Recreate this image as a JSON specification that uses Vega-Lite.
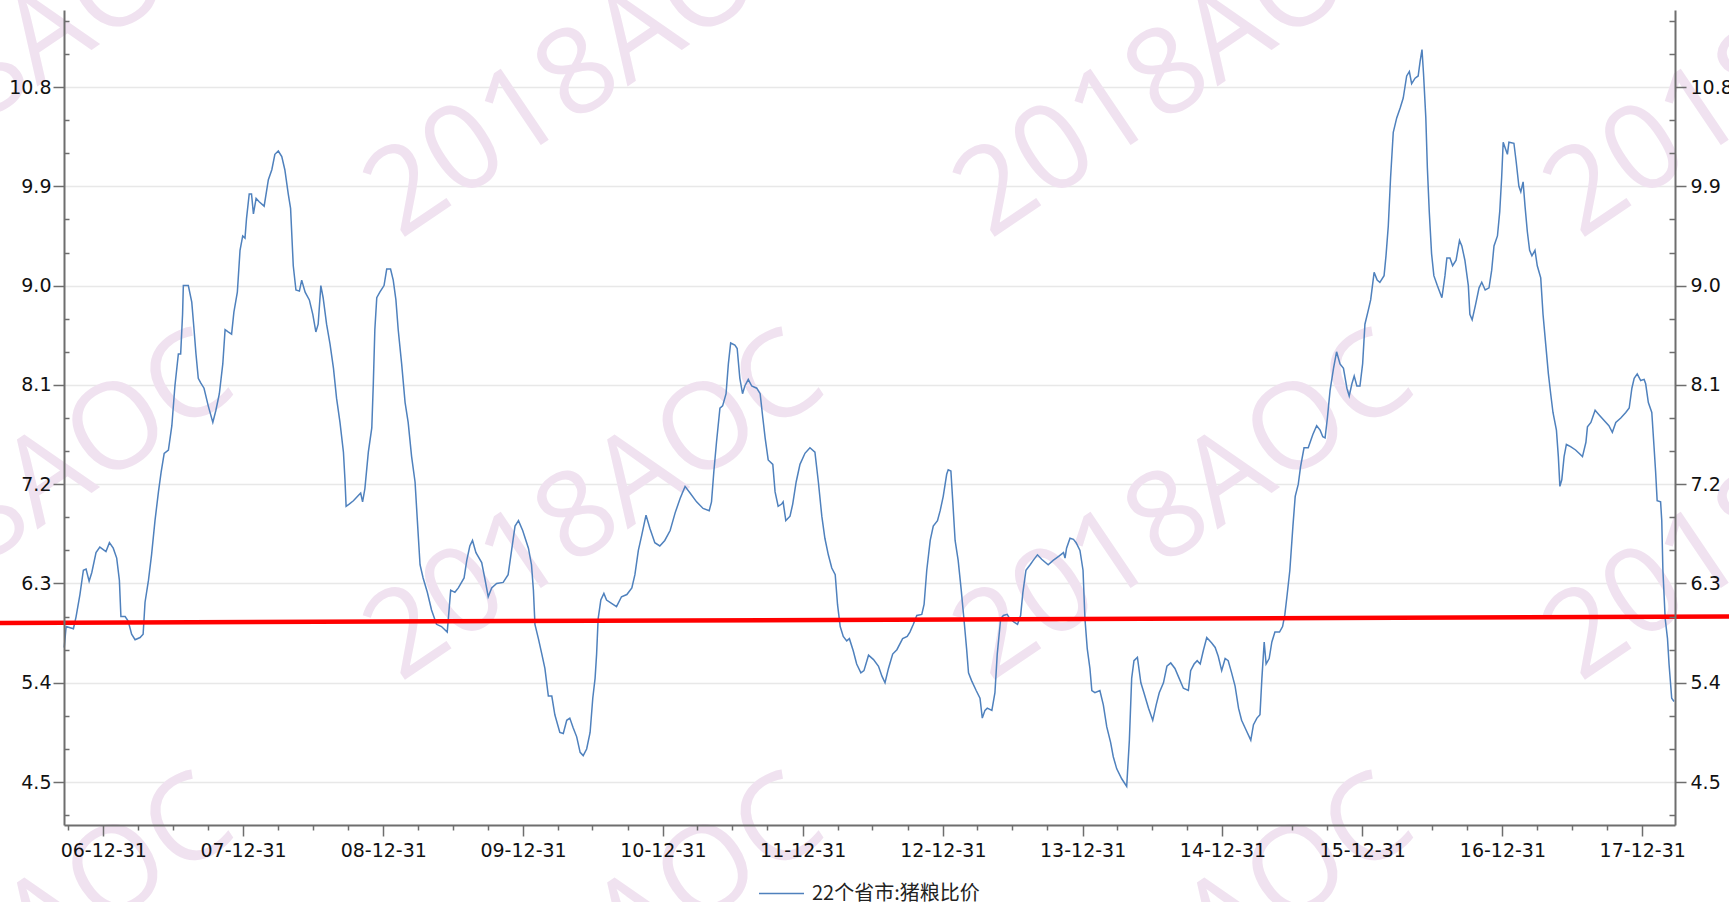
{
"$schema":"https://vega.github.io/schema/vega-lite/v6.json",
"width":1611,"height":815,
"autosize":{"type":"none"},
"padding":{"left":64,"top":10,"right":54,"bottom":77},
"background":"#ffffff",
"config":{"view":{"stroke":null},"axis":{"labelFont":"DejaVu Sans","labelFontSize":19,"labelColor":"#111111","domainColor":"#6e6e6e","tickColor":"#6e6e6e","domainWidth":2,"tickWidth":1.5,"title":null,"labelFlush":false,"labelOverlap":false}},
"layer":[
{
"data":{"values":[{"date":"2010-001","value":6.0}],"format":{"parse":{"date":"utc:'%Y-%j'"}}},
"mark":{"type":"point","opacity":0},
"encoding":{
"x":{"field":"date","type":"temporal","scale":{"type":"utc","domain":[{"year":2006,"month":9,"date":19,"hours":10,"utc":true},{"year":2018,"month":3,"date":26,"hours":14,"utc":true}]},"axis":null},
"y":{"field":"value","type":"quantitative","scale":{"domain":[4.111,11.498],"nice":false,"zero":false},
"axis":{"orient":"left","values":[4.5,5.4,6.3,7.2,8.1,9.0,9.9,10.8],"labels":false,"domain":false,"ticks":false,"grid":true,"gridColor":"#e8e8e8","gridWidth":1.5,"zindex":0}}
}
},
{
"data":{"values":[
{"date":"2006-108","value":11.0},{"date":"2010-188","value":11.0},{"date":"2014-267","value":11.0},{"date":"2018-347","value":11.0},
{"date":"2006-108","value":6.985},{"date":"2010-188","value":6.985},{"date":"2014-267","value":6.985},{"date":"2018-347","value":6.985},
{"date":"2006-108","value":2.97},{"date":"2010-188","value":2.97},{"date":"2014-267","value":2.97},{"date":"2018-347","value":2.97}
],"format":{"parse":{"date":"utc:'%Y-%j'"}}},
"mark":{"type":"text","text":"2018AOC","font":"Open Sans","fontSize":120,"angle":326,"align":"center","baseline":"middle","color":"#f0e2f0"},
"encoding":{
"x":{"field":"date","type":"temporal","scale":{"type":"utc","domain":[{"year":2006,"month":9,"date":19,"hours":10,"utc":true},{"year":2018,"month":3,"date":26,"hours":14,"utc":true}]},"axis":null},
"y":{"field":"value","type":"quantitative","scale":{"domain":[4.111,11.498],"nice":false,"zero":false},"axis":null}
}
},
{
"data":{"values":[
{"date":"2006-263","value":5.72},{"date":"2006-268","value":5.91},{"date":"2006-287","value":5.89},{"date":"2006-294","value":6.0},{"date":"2006-304","value":6.2},{"date":"2006-313","value":6.42},{"date":"2006-320","value":6.43},{"date":"2006-328","value":6.32},{"date":"2006-335","value":6.4},{"date":"2006-346","value":6.58},{"date":"2006-356","value":6.63},
{"date":"2007-007","value":6.59},{"date":"2007-016","value":6.67},{"date":"2007-026","value":6.62},{"date":"2007-035","value":6.53},{"date":"2007-042","value":6.33},{"date":"2007-046","value":6.0},{"date":"2007-057","value":6.0},{"date":"2007-065","value":5.96},{"date":"2007-074","value":5.84},{"date":"2007-083","value":5.79},{"date":"2007-096","value":5.81},{"date":"2007-104","value":5.84},{"date":"2007-109","value":6.13},{"date":"2007-118","value":6.33},{"date":"2007-126","value":6.56},{"date":"2007-135","value":6.87},{"date":"2007-144","value":7.13},{"date":"2007-151","value":7.31},{"date":"2007-159","value":7.48},{"date":"2007-170","value":7.51},{"date":"2007-179","value":7.73},{"date":"2007-187","value":8.09},{"date":"2007-196","value":8.38},{"date":"2007-202","value":8.38},{"date":"2007-207","value":8.74},{"date":"2007-209","value":9.0},{"date":"2007-222","value":9.0},{"date":"2007-231","value":8.85},{"date":"2007-237","value":8.6},{"date":"2007-242","value":8.38},{"date":"2007-248","value":8.16},{"date":"2007-254","value":8.12},{"date":"2007-263","value":8.07},{"date":"2007-274","value":7.91},{"date":"2007-286","value":7.76},{"date":"2007-294","value":7.87},{"date":"2007-303","value":8.02},{"date":"2007-312","value":8.29},{"date":"2007-318","value":8.6},{"date":"2007-326","value":8.58},{"date":"2007-335","value":8.56},{"date":"2007-341","value":8.76},{"date":"2007-350","value":8.94},{"date":"2007-357","value":9.32},{"date":"2007-364","value":9.45},
{"date":"2008-005","value":9.43},{"date":"2008-009","value":9.61},{"date":"2008-016","value":9.83},{"date":"2008-022","value":9.83},{"date":"2008-027","value":9.65},{"date":"2008-034","value":9.79},{"date":"2008-042","value":9.76},{"date":"2008-055","value":9.72},{"date":"2008-066","value":9.96},{"date":"2008-075","value":10.05},{"date":"2008-083","value":10.19},{"date":"2008-092","value":10.22},{"date":"2008-101","value":10.17},{"date":"2008-109","value":10.05},{"date":"2008-118","value":9.83},{"date":"2008-124","value":9.7},{"date":"2008-131","value":9.18},{"date":"2008-138","value":8.96},{"date":"2008-147","value":8.95},{"date":"2008-153","value":9.05},{"date":"2008-162","value":8.94},{"date":"2008-173","value":8.87},{"date":"2008-182","value":8.74},{"date":"2008-190","value":8.58},{"date":"2008-196","value":8.65},{"date":"2008-203","value":9.0},{"date":"2008-209","value":8.89},{"date":"2008-218","value":8.65},{"date":"2008-227","value":8.47},{"date":"2008-236","value":8.25},{"date":"2008-244","value":7.98},{"date":"2008-253","value":7.76},{"date":"2008-262","value":7.49},{"date":"2008-266","value":7.24},{"date":"2008-269","value":7.0},{"date":"2008-277","value":7.02},{"date":"2008-288","value":7.05},{"date":"2008-307","value":7.12},{"date":"2008-312","value":7.04},{"date":"2008-318","value":7.16},{"date":"2008-327","value":7.49},{"date":"2008-336","value":7.71},{"date":"2008-340","value":8.11},{"date":"2008-344","value":8.6},{"date":"2008-349","value":8.89},{"date":"2008-357","value":8.94},
{"date":"2009-002","value":9.0},{"date":"2009-009","value":9.15},{"date":"2009-019","value":9.15},{"date":"2009-026","value":9.05},{"date":"2009-033","value":8.87},{"date":"2009-039","value":8.6},{"date":"2009-048","value":8.29},{"date":"2009-057","value":7.94},{"date":"2009-065","value":7.76},{"date":"2009-074","value":7.45},{"date":"2009-083","value":7.22},{"date":"2009-089","value":6.87},{"date":"2009-096","value":6.47},{"date":"2009-104","value":6.35},{"date":"2009-115","value":6.22},{"date":"2009-126","value":6.06},{"date":"2009-139","value":5.93},{"date":"2009-152","value":5.91},{"date":"2009-167","value":5.86},{"date":"2009-176","value":6.24},{"date":"2009-187","value":6.22},{"date":"2009-196","value":6.26},{"date":"2009-211","value":6.35},{"date":"2009-218","value":6.51},{"date":"2009-226","value":6.64},{"date":"2009-233","value":6.69},{"date":"2009-242","value":6.58},{"date":"2009-257","value":6.49},{"date":"2009-266","value":6.33},{"date":"2009-274","value":6.18},{"date":"2009-283","value":6.26},{"date":"2009-296","value":6.3},{"date":"2009-313","value":6.31},{"date":"2009-326","value":6.38},{"date":"2009-335","value":6.6},{"date":"2009-344","value":6.82},{"date":"2009-353","value":6.87},{"date":"2009-364","value":6.78},
{"date":"2010-014","value":6.62},{"date":"2010-022","value":6.47},{"date":"2010-027","value":6.24},{"date":"2010-031","value":5.93},{"date":"2010-040","value":5.8},{"date":"2010-049","value":5.66},{"date":"2010-057","value":5.53},{"date":"2010-066","value":5.28},{"date":"2010-075","value":5.28},{"date":"2010-083","value":5.11},{"date":"2010-096","value":4.95},{"date":"2010-105","value":4.94},{"date":"2010-114","value":5.06},{"date":"2010-122","value":5.08},{"date":"2010-131","value":4.99},{"date":"2010-140","value":4.91},{"date":"2010-149","value":4.77},{"date":"2010-157","value":4.74},{"date":"2010-166","value":4.8},{"date":"2010-175","value":4.95},{"date":"2010-182","value":5.26},{"date":"2010-188","value":5.44},{"date":"2010-192","value":5.66},{"date":"2010-196","value":5.98},{"date":"2010-203","value":6.15},{"date":"2010-211","value":6.21},{"date":"2010-218","value":6.15},{"date":"2010-231","value":6.12},{"date":"2010-244","value":6.09},{"date":"2010-257","value":6.18},{"date":"2010-271","value":6.2},{"date":"2010-284","value":6.26},{"date":"2010-292","value":6.38},{"date":"2010-301","value":6.6},{"date":"2010-310","value":6.74},{"date":"2010-321","value":6.92},{"date":"2010-331","value":6.8},{"date":"2010-344","value":6.67},{"date":"2010-357","value":6.64},
{"date":"2011-005","value":6.69},{"date":"2011-019","value":6.78},{"date":"2011-032","value":6.94},{"date":"2011-045","value":7.07},{"date":"2011-058","value":7.18},{"date":"2011-071","value":7.12},{"date":"2011-088","value":7.04},{"date":"2011-105","value":6.98},{"date":"2011-121","value":6.96},{"date":"2011-127","value":7.04},{"date":"2011-133","value":7.31},{"date":"2011-140","value":7.58},{"date":"2011-149","value":7.89},{"date":"2011-156","value":7.91},{"date":"2011-165","value":8.02},{"date":"2011-171","value":8.29},{"date":"2011-177","value":8.48},{"date":"2011-188","value":8.46},{"date":"2011-194","value":8.43},{"date":"2011-201","value":8.16},{"date":"2011-208","value":8.02},{"date":"2011-214","value":8.09},{"date":"2011-223","value":8.15},{"date":"2011-232","value":8.09},{"date":"2011-245","value":8.07},{"date":"2011-254","value":8.02},{"date":"2011-261","value":7.8},{"date":"2011-267","value":7.62},{"date":"2011-275","value":7.42},{"date":"2011-287","value":7.38},{"date":"2011-293","value":7.13},{"date":"2011-301","value":7.0},{"date":"2011-310","value":7.02},{"date":"2011-314","value":7.04},{"date":"2011-321","value":6.87},{"date":"2011-332","value":6.91},{"date":"2011-339","value":7.02},{"date":"2011-348","value":7.22},{"date":"2011-358","value":7.38},
{"date":"2012-006","value":7.48},{"date":"2012-019","value":7.53},{"date":"2012-032","value":7.49},{"date":"2012-041","value":7.22},{"date":"2012-050","value":6.91},{"date":"2012-058","value":6.71},{"date":"2012-067","value":6.56},{"date":"2012-076","value":6.44},{"date":"2012-085","value":6.38},{"date":"2012-091","value":6.11},{"date":"2012-098","value":5.91},{"date":"2012-106","value":5.82},{"date":"2012-115","value":5.78},{"date":"2012-122","value":5.8},{"date":"2012-132","value":5.69},{"date":"2012-141","value":5.57},{"date":"2012-152","value":5.49},{"date":"2012-160","value":5.51},{"date":"2012-172","value":5.65},{"date":"2012-185","value":5.61},{"date":"2012-198","value":5.55},{"date":"2012-207","value":5.46},{"date":"2012-215","value":5.4},{"date":"2012-224","value":5.53},{"date":"2012-235","value":5.66},{"date":"2012-246","value":5.7},{"date":"2012-261","value":5.8},{"date":"2012-273","value":5.82},{"date":"2012-280","value":5.86},{"date":"2012-289","value":5.93},{"date":"2012-298","value":6.01},{"date":"2012-311","value":6.02},{"date":"2012-317","value":6.11},{"date":"2012-324","value":6.42},{"date":"2012-333","value":6.69},{"date":"2012-341","value":6.82},{"date":"2012-352","value":6.87},{"date":"2012-359","value":6.96},
{"date":"2013-001","value":7.09},{"date":"2013-010","value":7.29},{"date":"2013-014","value":7.33},{"date":"2013-021","value":7.32},{"date":"2013-026","value":7.04},{"date":"2013-032","value":6.69},{"date":"2013-040","value":6.51},{"date":"2013-048","value":6.24},{"date":"2013-055","value":5.98},{"date":"2013-062","value":5.71},{"date":"2013-067","value":5.49},{"date":"2013-075","value":5.42},{"date":"2013-087","value":5.33},{"date":"2013-097","value":5.26},{"date":"2013-103","value":5.08},{"date":"2013-110","value":5.15},{"date":"2013-116","value":5.17},{"date":"2013-128","value":5.15},{"date":"2013-136","value":5.31},{"date":"2013-142","value":5.66},{"date":"2013-151","value":5.98},{"date":"2013-158","value":6.01},{"date":"2013-168","value":6.02},{"date":"2013-175","value":5.98},{"date":"2013-186","value":5.95},{"date":"2013-195","value":5.93},{"date":"2013-203","value":6.01},{"date":"2013-209","value":6.22},{"date":"2013-217","value":6.42},{"date":"2013-228","value":6.47},{"date":"2013-236","value":6.51},{"date":"2013-247","value":6.56},{"date":"2013-258","value":6.52},{"date":"2013-275","value":6.47},{"date":"2013-288","value":6.51},{"date":"2013-304","value":6.55},{"date":"2013-315","value":6.58},{"date":"2013-319","value":6.53},{"date":"2013-323","value":6.62},{"date":"2013-332","value":6.71},{"date":"2013-341","value":6.7},{"date":"2013-348","value":6.67},{"date":"2013-358","value":6.6},
{"date":"2014-001","value":6.42},{"date":"2014-006","value":5.98},{"date":"2014-012","value":5.71},{"date":"2014-019","value":5.53},{"date":"2014-024","value":5.33},{"date":"2014-032","value":5.31},{"date":"2014-045","value":5.33},{"date":"2014-054","value":5.2},{"date":"2014-063","value":5.0},{"date":"2014-073","value":4.86},{"date":"2014-080","value":4.73},{"date":"2014-089","value":4.62},{"date":"2014-102","value":4.53},{"date":"2014-115","value":4.46},{"date":"2014-122","value":4.88},{"date":"2014-128","value":5.44},{"date":"2014-134","value":5.6},{"date":"2014-143","value":5.63},{"date":"2014-152","value":5.4},{"date":"2014-160","value":5.31},{"date":"2014-172","value":5.17},{"date":"2014-183","value":5.06},{"date":"2014-192","value":5.2},{"date":"2014-200","value":5.31},{"date":"2014-211","value":5.4},{"date":"2014-220","value":5.55},{"date":"2014-230","value":5.58},{"date":"2014-241","value":5.53},{"date":"2014-252","value":5.44},{"date":"2014-263","value":5.35},{"date":"2014-276","value":5.33},{"date":"2014-282","value":5.51},{"date":"2014-291","value":5.57},{"date":"2014-299","value":5.6},{"date":"2014-307","value":5.57},{"date":"2014-315","value":5.69},{"date":"2014-324","value":5.81},{"date":"2014-337","value":5.76},{"date":"2014-346","value":5.72},{"date":"2014-354","value":5.64},{"date":"2014-363","value":5.51},
{"date":"2015-007","value":5.62},{"date":"2015-015","value":5.6},{"date":"2015-024","value":5.49},{"date":"2015-033","value":5.37},{"date":"2015-042","value":5.17},{"date":"2015-050","value":5.06},{"date":"2015-062","value":4.97},{"date":"2015-074","value":4.88},{"date":"2015-081","value":5.02},{"date":"2015-090","value":5.08},{"date":"2015-098","value":5.11},{"date":"2015-103","value":5.44},{"date":"2015-109","value":5.77},{"date":"2015-114","value":5.57},{"date":"2015-122","value":5.62},{"date":"2015-129","value":5.77},{"date":"2015-137","value":5.86},{"date":"2015-149","value":5.86},{"date":"2015-157","value":5.91},{"date":"2015-163","value":6.02},{"date":"2015-169","value":6.2},{"date":"2015-176","value":6.42},{"date":"2015-184","value":6.82},{"date":"2015-190","value":7.09},{"date":"2015-198","value":7.2},{"date":"2015-204","value":7.36},{"date":"2015-213","value":7.53},{"date":"2015-224","value":7.53},{"date":"2015-236","value":7.65},{"date":"2015-246","value":7.73},{"date":"2015-255","value":7.69},{"date":"2015-262","value":7.63},{"date":"2015-268","value":7.62},{"date":"2015-274","value":7.8},{"date":"2015-281","value":8.05},{"date":"2015-290","value":8.25},{"date":"2015-298","value":8.4},{"date":"2015-307","value":8.29},{"date":"2015-316","value":8.25},{"date":"2015-325","value":8.07},{"date":"2015-331","value":8.0},{"date":"2015-338","value":8.11},{"date":"2015-344","value":8.18},{"date":"2015-351","value":8.09},{"date":"2015-359","value":8.09},
{"date":"2016-001","value":8.29},{"date":"2016-007","value":8.65},{"date":"2016-016","value":8.78},{"date":"2016-022","value":8.87},{"date":"2016-031","value":9.12},{"date":"2016-039","value":9.05},{"date":"2016-046","value":9.03},{"date":"2016-057","value":9.09},{"date":"2016-062","value":9.27},{"date":"2016-068","value":9.54},{"date":"2016-074","value":9.98},{"date":"2016-081","value":10.39},{"date":"2016-090","value":10.52},{"date":"2016-099","value":10.61},{"date":"2016-107","value":10.7},{"date":"2016-116","value":10.9},{"date":"2016-123","value":10.94},{"date":"2016-129","value":10.83},{"date":"2016-138","value":10.88},{"date":"2016-146","value":10.9},{"date":"2016-151","value":11.03},{"date":"2016-156","value":11.14},{"date":"2016-160","value":10.92},{"date":"2016-166","value":10.52},{"date":"2016-170","value":10.07},{"date":"2016-175","value":9.67},{"date":"2016-181","value":9.29},{"date":"2016-187","value":9.09},{"date":"2016-196","value":9.0},{"date":"2016-208","value":8.89},{"date":"2016-216","value":9.09},{"date":"2016-221","value":9.25},{"date":"2016-229","value":9.25},{"date":"2016-236","value":9.18},{"date":"2016-245","value":9.23},{"date":"2016-254","value":9.41},{"date":"2016-260","value":9.36},{"date":"2016-268","value":9.23},{"date":"2016-277","value":9.0},{"date":"2016-281","value":8.74},{"date":"2016-287","value":8.69},{"date":"2016-296","value":8.83},{"date":"2016-305","value":8.98},{"date":"2016-312","value":9.03},{"date":"2016-321","value":8.96},{"date":"2016-331","value":8.98},{"date":"2016-338","value":9.14},{"date":"2016-344","value":9.36},{"date":"2016-353","value":9.45},{"date":"2016-359","value":9.67},{"date":"2016-364","value":9.98},
{"date":"2017-002","value":10.3},{"date":"2017-007","value":10.25},{"date":"2017-013","value":10.19},{"date":"2017-017","value":10.3},{"date":"2017-030","value":10.29},{"date":"2017-036","value":10.12},{"date":"2017-043","value":9.9},{"date":"2017-048","value":9.85},{"date":"2017-054","value":9.94},{"date":"2017-059","value":9.72},{"date":"2017-065","value":9.49},{"date":"2017-071","value":9.32},{"date":"2017-077","value":9.27},{"date":"2017-085","value":9.32},{"date":"2017-091","value":9.18},{"date":"2017-100","value":9.07},{"date":"2017-106","value":8.74},{"date":"2017-113","value":8.47},{"date":"2017-120","value":8.2},{"date":"2017-126","value":8.02},{"date":"2017-132","value":7.85},{"date":"2017-141","value":7.69},{"date":"2017-146","value":7.45},{"date":"2017-150","value":7.18},{"date":"2017-155","value":7.24},{"date":"2017-161","value":7.45},{"date":"2017-167","value":7.56},{"date":"2017-178","value":7.54},{"date":"2017-191","value":7.51},{"date":"2017-200","value":7.48},{"date":"2017-209","value":7.45},{"date":"2017-218","value":7.58},{"date":"2017-222","value":7.72},{"date":"2017-231","value":7.76},{"date":"2017-242","value":7.87},{"date":"2017-252","value":7.83},{"date":"2017-265","value":7.78},{"date":"2017-278","value":7.73},{"date":"2017-287","value":7.67},{"date":"2017-296","value":7.76},{"date":"2017-309","value":7.8},{"date":"2017-322","value":7.85},{"date":"2017-331","value":7.89},{"date":"2017-338","value":8.07},{"date":"2017-344","value":8.16},{"date":"2017-352","value":8.2},{"date":"2017-361","value":8.14},
{"date":"2018-005","value":8.15},{"date":"2018-009","value":8.11},{"date":"2018-016","value":7.94},{"date":"2018-025","value":7.85},{"date":"2018-031","value":7.53},{"date":"2018-035","value":7.31},{"date":"2018-039","value":7.05},{"date":"2018-048","value":7.04},{"date":"2018-051","value":6.87},{"date":"2018-054","value":6.42},{"date":"2018-060","value":5.98},{"date":"2018-066","value":5.8},{"date":"2018-070","value":5.57},{"date":"2018-077","value":5.26},{"date":"2018-083","value":5.23}
],"format":{"parse":{"date":"utc:'%Y-%j'"}}},
"mark":{"type":"line","strokeWidth":1.5,"interpolate":"linear"},
"encoding":{
"x":{"field":"date","type":"temporal","scale":{"type":"utc","domain":[{"year":2006,"month":9,"date":19,"hours":10,"utc":true},{"year":2018,"month":3,"date":26,"hours":14,"utc":true}]},
"axis":{"orient":"bottom","format":"%y-%m-%d","grid":false,"tickSize":11,"labelPadding":5,"labelBound":false,"zindex":1,
"values":[{"year":2006,"month":12,"date":31,"utc":true},{"year":2007,"month":12,"date":31,"utc":true},{"year":2008,"month":12,"date":31,"utc":true},{"year":2009,"month":12,"date":31,"utc":true},{"year":2010,"month":12,"date":31,"utc":true},{"year":2011,"month":12,"date":31,"utc":true},{"year":2012,"month":12,"date":31,"utc":true},{"year":2013,"month":12,"date":31,"utc":true},{"year":2014,"month":12,"date":31,"utc":true},{"year":2015,"month":12,"date":31,"utc":true},{"year":2016,"month":12,"date":31,"utc":true},{"year":2017,"month":12,"date":31,"utc":true}]}},
"y":{"field":"value","type":"quantitative","scale":{"domain":[4.111,11.498],"nice":false,"zero":false},
"axis":{"orient":"left","values":[4.5,5.4,6.3,7.2,8.1,9.0,9.9,10.8],"format":".1f","grid":false,"tickSize":11,"labelPadding":2,"zindex":1}},
"color":{"datum":"22个省市:猪粮比价","scale":{"range":["#4f81bd"]},
"legend":{"orient":"none","legendX":694,"legendY":860,"title":null,"symbolType":"stroke","symbolSize":2025,"symbolStrokeWidth":1.5,"labelFont":"Noto Sans CJK SC","labelFontSize":20,"labelColor":"#222222","labelOffset":7,"labelLimit":0,"padding":0,"zindex":1}}
}
},
{
"data":{"values":[{"date":"2006-095","value":5.942},{"date":"2018-227","value":6.0}],"format":{"parse":{"date":"utc:'%Y-%j'"}}},
"mark":{"type":"line","color":"#ff0000","strokeWidth":4.5},
"encoding":{
"x":{"field":"date","type":"temporal","scale":{"type":"utc","domain":[{"year":2006,"month":9,"date":19,"hours":10,"utc":true},{"year":2018,"month":3,"date":26,"hours":14,"utc":true}]},
"axis":{"orient":"bottom","labels":false,"domain":false,"grid":false,"tickSize":5,"zindex":1,
"values":[{"year":2006,"month":9,"date":30,"utc":true},
{"year":2007,"month":3,"date":31,"utc":true},{"year":2007,"month":6,"date":30,"utc":true},{"year":2007,"month":9,"date":30,"utc":true},
{"year":2008,"month":3,"date":31,"utc":true},{"year":2008,"month":6,"date":30,"utc":true},{"year":2008,"month":9,"date":30,"utc":true},
{"year":2009,"month":3,"date":31,"utc":true},{"year":2009,"month":6,"date":30,"utc":true},{"year":2009,"month":9,"date":30,"utc":true},
{"year":2010,"month":3,"date":31,"utc":true},{"year":2010,"month":6,"date":30,"utc":true},{"year":2010,"month":9,"date":30,"utc":true},
{"year":2011,"month":3,"date":31,"utc":true},{"year":2011,"month":6,"date":30,"utc":true},{"year":2011,"month":9,"date":30,"utc":true},
{"year":2012,"month":3,"date":31,"utc":true},{"year":2012,"month":6,"date":30,"utc":true},{"year":2012,"month":9,"date":30,"utc":true},
{"year":2013,"month":3,"date":31,"utc":true},{"year":2013,"month":6,"date":30,"utc":true},{"year":2013,"month":9,"date":30,"utc":true},
{"year":2014,"month":3,"date":31,"utc":true},{"year":2014,"month":6,"date":30,"utc":true},{"year":2014,"month":9,"date":30,"utc":true},
{"year":2015,"month":3,"date":31,"utc":true},{"year":2015,"month":6,"date":30,"utc":true},{"year":2015,"month":9,"date":30,"utc":true},
{"year":2016,"month":3,"date":31,"utc":true},{"year":2016,"month":6,"date":30,"utc":true},{"year":2016,"month":9,"date":30,"utc":true},
{"year":2017,"month":3,"date":31,"utc":true},{"year":2017,"month":6,"date":30,"utc":true},{"year":2017,"month":9,"date":30,"utc":true}]}},
"y":{"field":"value","type":"quantitative","scale":{"domain":[4.111,11.498],"nice":false,"zero":false},
"axis":{"orient":"right","values":[4.5,5.4,6.3,7.2,8.1,9.0,9.9,10.8],"format":".1f","grid":false,"tickSize":11,"labelPadding":4,"zindex":1}}
}
},
{
"data":{"values":[{"date":"2010-001","value":6.0}],"format":{"parse":{"date":"utc:'%Y-%j'"}}},
"mark":{"type":"point","opacity":0},
"encoding":{
"x":{"field":"date","type":"temporal","scale":{"type":"utc","domain":[{"year":2006,"month":9,"date":19,"hours":10,"utc":true},{"year":2018,"month":3,"date":26,"hours":14,"utc":true}]},"axis":null},
"y":{"field":"value","type":"quantitative","scale":{"domain":[4.111,11.498],"nice":false,"zero":false},
"axis":{"orient":"left","values":[4.2,4.8,5.1,5.7,6.0,6.6,6.9,7.5,7.8,8.4,8.7,9.3,9.6,10.2,10.5,11.1,11.4],"labels":false,"domain":false,"grid":false,"tickSize":-5,"zindex":1}}
}
},
{
"data":{"values":[{"date":"2010-001","value":6.0}],"format":{"parse":{"date":"utc:'%Y-%j'"}}},
"mark":{"type":"point","opacity":0},
"encoding":{
"x":{"field":"date","type":"temporal","scale":{"type":"utc","domain":[{"year":2006,"month":9,"date":19,"hours":10,"utc":true},{"year":2018,"month":3,"date":26,"hours":14,"utc":true}]},"axis":null},
"y":{"field":"value","type":"quantitative","scale":{"domain":[4.111,11.498],"nice":false,"zero":false},
"axis":{"orient":"right","values":[4.2,4.8,5.1,5.7,6.0,6.6,6.9,7.5,7.8,8.4,8.7,9.3,9.6,10.2,10.5,11.1,11.4],"labels":false,"domain":false,"grid":false,"tickSize":-6,"zindex":1}}
}
}
],
"resolve":{"axis":{"x":"independent","y":"independent"}}
}
